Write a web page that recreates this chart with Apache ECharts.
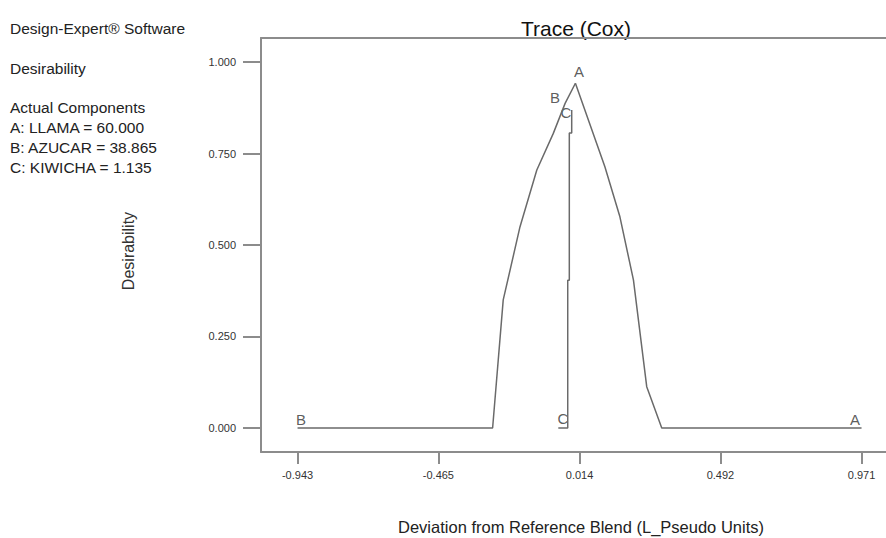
<!DOCTYPE html>
<html>
<head>
<meta charset="utf-8">
<script src="https://cdn.jsdelivr.net/npm/echarts@6/dist/echarts.min.js"></script>
<style>
html,body{margin:0;padding:0;background:#fff;overflow:hidden;}
#c{width:886px;height:538px;}
</style>
</head>
<body>
<div id="c"></div>
<script>
// ---- data ----
const xTickValues = [-0.943, -0.465, 0.014, 0.492, 0.971];
const yTickValues = [0, 0.25, 0.5, 0.75, 1.0];
const traceB = [[-0.943, 0], [-0.281, 0], [-0.245, 0.35], [-0.188, 0.55], [-0.131, 0.705], [-0.075, 0.805], [-0.035, 0.887], [0.0, 0.942]];
const traceA = [[0.0, 0.942], [0.100, 0.714], [0.151, 0.577], [0.197, 0.404], [0.242, 0.113], [0.293, 0], [0.971, 0]];
const traceC = [[-0.0126, 0.869], [-0.0126, 0.806], [-0.0207, 0.806], [-0.0207, 0.404], [-0.0261, 0.404], [-0.0261, 0], [-0.0581, 0]];
const traceLabels = [
  {name: 'A', value: [0.012, 0.973]},
  {name: 'A', value: [0.949, 0.022]},
  {name: 'B', value: [-0.931, 0.022]},
  {name: 'B', value: [-0.069, 0.904]},
  {name: 'C', value: [-0.042, 0.025]},
  {name: 'C', value: [-0.032, 0.863]}
];
const infoLines = ['Design-Expert® Software', 'Desirability', 'Actual Components', 'A: LLAMA = 60.000', 'B: AZUCAR = 38.865', 'C: KIWICHA = 1.135'];
const infoY = [28.5, 68, 107, 127, 147, 167];
const titleText = 'Trace (Cox)';
const xName = 'Deviation from Reference Blend (L_Pseudo Units)';
const yName = 'Desirability';

const FONT = '"Liberation Sans", Arial, sans-serif';
const el = document.getElementById('c');
const chart = echarts.init(el, null, {renderer: 'svg', width: 886, height: 538});

const lineStyle = {color: '#6a6a6a', width: 1.5};
const mkLine = d => ({type: 'line', data: d, showSymbol: false, symbol: 'none', lineStyle: lineStyle, silent: true, animation: false, xAxisIndex: 0, yAxisIndex: 0});
const axisCol = '#8c8c8c';

chart.setOption({
  animation: false,
  backgroundColor: '#fff',
  grid: {left: 261, top: 38, right: 0, bottom: 86, containLabel: false, outerBoundsMode: 'none'},
  xAxis: [{
    type: 'value', position: 'bottom',
    min: -1.067, max: 1.054,
    splitLine: {show: false},
    axisLine: {show: true, onZero: false, lineStyle: {color: axisCol, width: 2}},
    axisTick: {show: true, length: 12, customValues: xTickValues, lineStyle: {color: axisCol, width: 2}},
    axisLabel: {customValues: xTickValues, margin: 17, fontSize: 11, color: '#333', fontFamily: FONT,
      formatter: v => v.toFixed(3)}
  }, {
    type: 'value', position: 'top',
    min: -1.067, max: 1.054,
    splitLine: {show: false},
    axisLine: {show: true, onZero: false, lineStyle: {color: axisCol, width: 2}},
    axisTick: {show: false}, axisLabel: {show: false}
  }],
  yAxis: {
    type: 'value', min: -0.0656, max: 1.0656, position: 'left',
    splitLine: {show: false},
    axisLine: {show: true, onZero: false, lineStyle: {color: axisCol, width: 2}},
    axisTick: {show: true, length: 18, customValues: yTickValues, lineStyle: {color: axisCol, width: 2}},
    axisLabel: {customValues: yTickValues, margin: 25, fontSize: 11, color: '#333', fontFamily: FONT,
      formatter: v => v.toFixed(3)}
  },
  graphic: infoLines.map((t, i) => ({
    type: 'text', x: 10, y: infoY[i],
    style: {text: t, fontSize: 15.5, fill: '#222', fontFamily: FONT, align: 'left', verticalAlign: 'middle'}
  })).concat([
    {type: 'text', x: 576, y: 28, style: {text: titleText, fontSize: 21, fill: '#111', fontFamily: FONT, align: 'center', verticalAlign: 'middle'}},
    {type: 'text', x: 581, y: 527, style: {text: xName, fontSize: 16.5, fill: '#222', fontFamily: FONT, align: 'center', verticalAlign: 'middle'}},
    {type: 'text', x: 128, y: 251, rotation: Math.PI / 2, style: {text: yName, fontSize: 16, fill: '#333', fontFamily: FONT, align: 'center', verticalAlign: 'middle'}}
  ]),
  series: [
    mkLine(traceB), mkLine(traceA), mkLine(traceC),
    {
      type: 'scatter', data: traceLabels, symbolSize: 0, silent: true,
      label: {show: true, position: 'inside', formatter: p => p.name, fontSize: 15, color: '#333', fontFamily: FONT}
    }
  ]
});
</script>
</body>
</html>
